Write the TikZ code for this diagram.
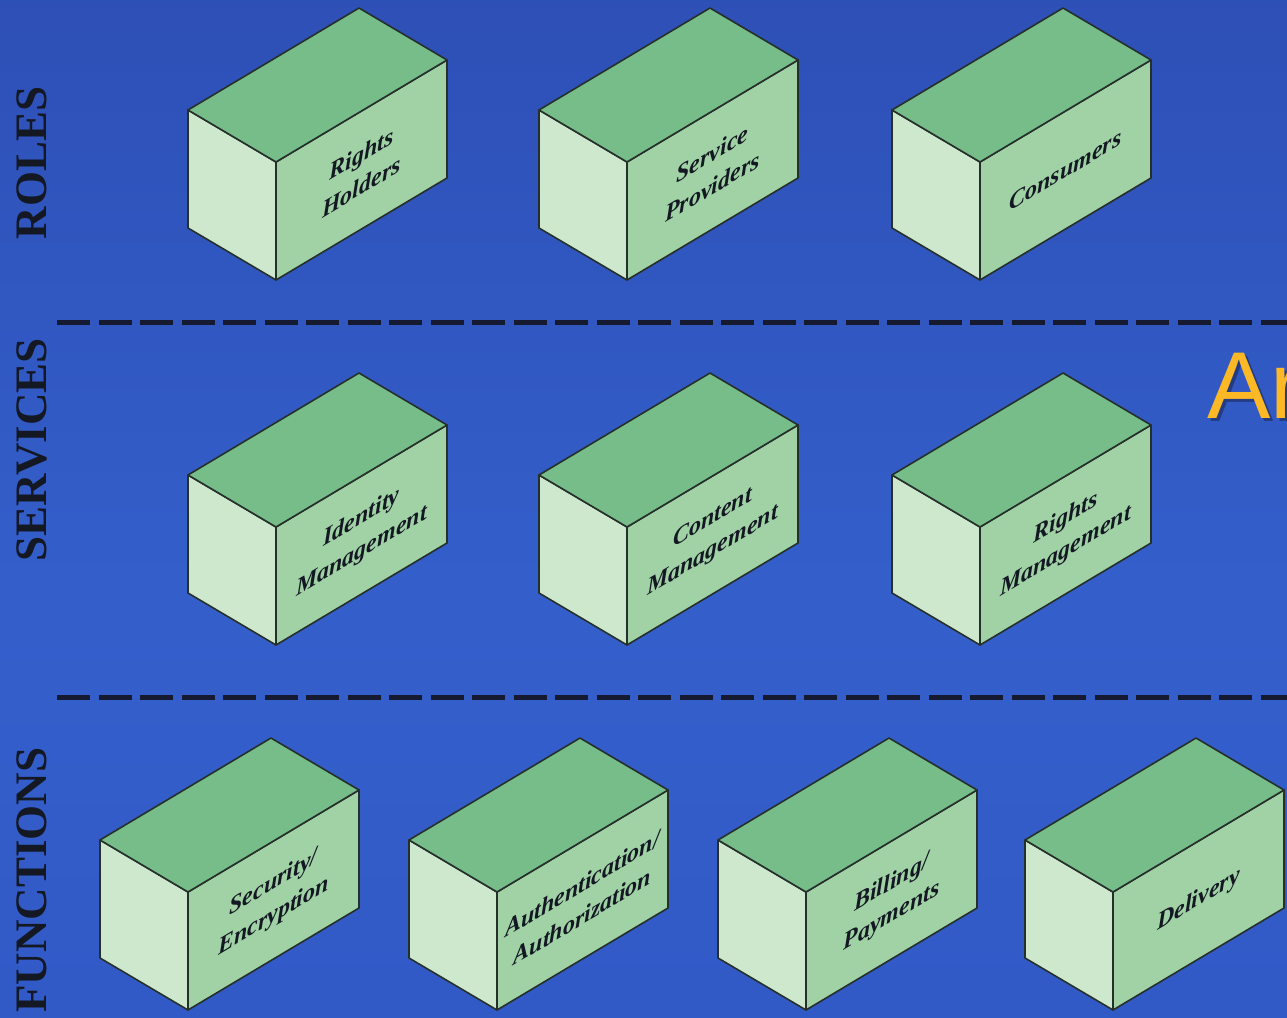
\documentclass[tikz,border=0pt]{standalone}
\usepackage{fontspec}
\setmainfont{Liberation Serif}
\newfontfamily\headsans{Liberation Sans}

\definecolor{bgtop}{HTML}{2843A5}
\definecolor{bgmid}{HTML}{345FCB}
\definecolor{bgbot}{HTML}{3053C2}
\definecolor{facetop}{HTML}{76BD8A}
\definecolor{faceright}{HTML}{A0D2A6}
\definecolor{faceleft}{HTML}{CEE8CE}
\definecolor{edgeink}{HTML}{26302A}
\definecolor{labelink}{HTML}{141822}
\definecolor{dashink}{HTML}{151A30}
\definecolor{titleorange}{HTML}{FDB826}
\definecolor{titleshade}{HTML}{1A2450}

\pgfdeclareverticalshading{panelbg}{100bp}{color(0bp)=(bgbot); color(45bp)=(bgmid); color(100bp)=(bgtop)}

\tikzset{
  topface/.style={fill=facetop, draw=edgeink, line width=1.6pt, line join=round},
  rightface/.style={fill=faceright, draw=edgeink, line width=1.6pt, line join=round},
  leftface/.style={fill=faceleft, draw=edgeink, line width=1.6pt, line join=round},
  boxlabel/.style={align=center, inner sep=0pt, yslant=0.596, text=labelink,
    font=\fontsize{24}{33}\selectfont\bfseries\itshape},
  rowlabel/.style={rotate=90, anchor=base, inner sep=0pt, text=labelink,
    font=\fontsize{45}{45}\selectfont\bfseries},
  separator/.style={draw=dashink, line width=5pt, dash pattern=on 33pt off 8.5pt},
}

% isometric block: name, x and y of the front top corner, label
\newcommand{\isoblock}[4]{%
  \coordinate (#1-f) at (#2,#3);
  \path[leftface] (#1-f) -- ++(-88,-52) -- ++(0,118) -- ++(88,52) -- cycle;
  \path[rightface] (#1-f) -- ++(171,-102) -- ++(0,118) -- ++(-171,102) -- cycle;
  \path[topface] (#1-f) -- ++(-88,-52) -- ++(171,-102) -- ++(88,52) -- cycle;
  \node[boxlabel] (#1) at ($(#1-f)+(85.5,8)$) {#4};
}

\usetikzlibrary{calc}

\begin{document}
\begin{tikzpicture}[x=1pt,y=-1pt]
\useasboundingbox (0,0) rectangle (1287,1017);
\clip (0,0) rectangle (1287,1017);
\shade[shading=panelbg] (0,0) rectangle (1287,1017);

% layer separators
\coordinate (sepAw) at (57,322);  \coordinate (sepAe) at (1290,322);
\coordinate (sepBw) at (57,697);  \coordinate (sepBe) at (1290,697);
\draw[separator] (sepAw) -- (sepAe);
\draw[separator] (sepBw) -- (sepBe);

% layer names
\node[rowlabel] (roles) at (46,163) {ROLES};
\node[rowlabel] (services) at (46,450) {SERVICES};
\node[rowlabel] (functions) at (46,880) {FUNCTIONS};

% heading
\node[anchor=base west, inner sep=0pt, text=titleshade, opacity=0.55,
  font=\headsans\fontsize{95}{95}\selectfont] (titleshadow) at (1210,421) {Ar};
\node[anchor=base west, inner sep=0pt, text=titleorange,
  font=\headsans\fontsize{95}{95}\selectfont] (title) at (1207,418) {Ar};

% roles
\isoblock{holders}{276}{162}{Rights\\Holders}
\isoblock{providers}{627}{162}{Service\\Providers}
\isoblock{consumers}{980}{162}{Consumers}

% services
\isoblock{identity}{276}{527}{Identity\\Management}
\isoblock{content}{627}{527}{Content\\Management}
\isoblock{rightsmgmt}{980}{527}{Rights\\Management}

% functions
\isoblock{security}{188}{892}{Security/\\Encryption}
\isoblock{auth}{497}{892}{Authentication/\\Authorization}
\isoblock{billing}{806}{892}{Billing/\\Payments}
\isoblock{delivery}{1113}{892}{Delivery}
\end{tikzpicture}
\end{document}
